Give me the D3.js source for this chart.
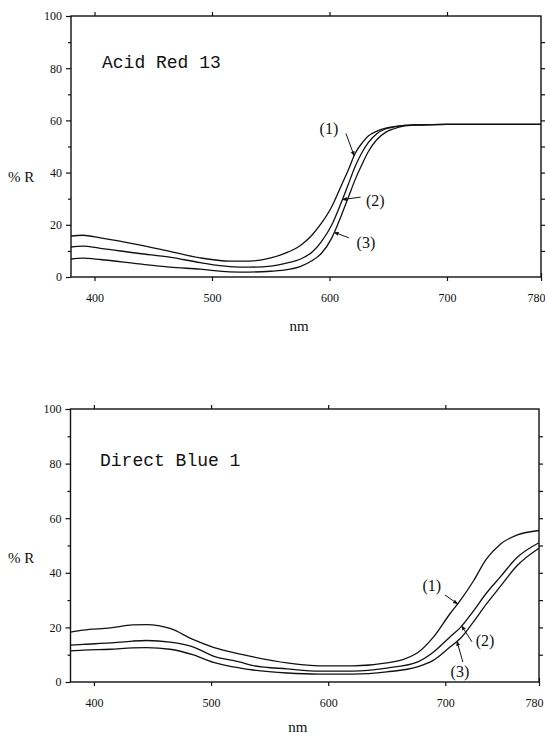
<!DOCTYPE html>
<html>
<head>
<meta charset="utf-8">
<script src="https://cdn.jsdelivr.net/npm/d3@7"></script>
<style>
  html, body { margin: 0; padding: 0; background: #fff; }
  svg { display: block; }
  .tick-label { font-family: "Liberation Serif", "DejaVu Serif", serif; font-size: 12px; fill: #111; }
  .axis-title { font-family: "Liberation Serif", "DejaVu Serif", serif; fill: #111; }
  .panel-title { font-family: "Liberation Mono", "DejaVu Sans Mono", monospace; font-size: 18px; fill: #111; }
  .curve-label { font-family: "Liberation Serif", "DejaVu Serif", serif; font-size: 16px; fill: #111; }
</style>
</head>
<body>
<svg id="chart" width="545" height="741"></svg>
<script>
// Reflectance spectra (%R vs wavelength, nm) of two dyes, three dyeings each.

// ---- Acid Red 13 ----
const acidRedWavelengths = [380, 390, 405, 438, 464, 490, 515, 532, 550, 565, 575, 585, 593, 602, 610, 616, 622, 628, 633, 640, 648, 655, 662, 675, 700, 740, 780];
const acidRed1 = [15.7, 16.0, 15.0, 12.3, 9.8, 7.3, 6.1, 6.1, 7.3, 9.6, 12.0, 16.0, 20.5, 27.0, 35.0, 41.0, 47.5, 51.5, 54.0, 55.8, 57.0, 57.6, 58.0, 58.3, 58.5, 58.5, 58.5];
const acidRed2 = [11.5, 11.8, 11.0, 9.0, 7.6, 5.5, 4.0, 3.8, 4.2, 5.5, 6.8, 9.5, 13.5, 20.0, 28.5, 35.5, 42.5, 48.0, 51.5, 54.8, 56.8, 57.5, 58.0, 58.3, 58.5, 58.5, 58.5];
const acidRed3 = [6.9, 7.2, 6.7, 5.0, 3.8, 3.0, 2.0, 1.9, 2.2, 2.9, 4.0, 6.2, 9.0, 15.0, 23.5, 30.5, 37.5, 43.5, 48.0, 52.5, 55.5, 56.8, 57.7, 58.2, 58.5, 58.5, 58.5];

// ---- Direct Blue 1 ----
const directBlueWavelengths = [380, 391, 414, 433, 445, 465, 485, 502, 525, 536, 565, 593, 621, 650, 676, 690, 704, 713, 724, 735, 747, 761, 780];
const directBlue1 = [18.3, 19.0, 19.8, 20.9, 21.0, 19.6, 15.5, 12.7, 10.2, 9.2, 7.0, 5.9, 5.9, 7.0, 10.6, 16.5, 25.0, 30.0, 37.0, 45.0, 50.5, 53.8, 55.5];
const directBlue2 = [13.5, 13.8, 14.3, 15.0, 15.2, 14.6, 12.8, 9.5, 7.3, 6.0, 4.8, 4.0, 4.0, 5.1, 7.3, 11.0, 16.5, 20.0, 26.0, 32.5, 38.5, 45.5, 51.0];
const directBlue3 = [11.4, 11.7, 12.0, 12.5, 12.6, 12.0, 9.9, 7.2, 5.1, 4.4, 3.3, 2.9, 2.9, 3.7, 5.5, 8.0, 12.8, 16.0, 22.0, 28.5, 35.0, 42.5, 49.0];

// Axis ticks
const xTickValues = [400, 500, 600, 700, 780];
const yTickValues = [0, 20, 40, 60, 80, 100];
const yMinorTickValues = [10, 30, 50, 70, 90];
const xDomain = [380, 780];
const yDomain = [0, 100];

// Curve labels: text, which series, wavelength the arrow points at,
// label centre and arrow start in data units (nm, %R).
const acidRedLabels = [
  { text: "(1)", series: 0, tipNm: 621, labelNm: 599.5, labelR: 57, fromNm: 614, fromR: 55 },
  { text: "(2)", series: 1, tipNm: 611, labelNm: 639, labelR: 29.5, fromNm: 626.5, fromR: 30.6 },
  { text: "(3)", series: 2, tipNm: 604, labelNm: 631, labelR: 13.4, fromNm: 616.5, fromR: 15 }
];
const directBlueLabels = [
  { text: "(1)", series: 0, tipNm: 710.5, labelNm: 688.5, labelR: 35.5, fromNm: 699.7, fromR: 31.9 },
  { text: "(2)", series: 1, tipNm: 714, labelNm: 734, labelR: 15.4, fromNm: 722.8, fromR: 14.7 },
  { text: "(3)", series: 2, tipNm: 710, labelNm: 712.5, labelR: 3.7, fromNm: 715, fromR: 7.3 }
];

const svg = d3.select("#chart");

svg.append("defs").append("marker")
  .attr("id", "arrowhead")
  .attr("viewBox", "0 0 10 10")
  .attr("refX", 9).attr("refY", 5)
  .attr("markerWidth", 5).attr("markerHeight", 5)
  .attr("orient", "auto")
  .append("path").attr("d", "M0,1 L10,5 L0,9 Z").attr("fill", "#111");

function interp(xs, ys, x) {
  for (let i = 1; i < xs.length; i++) {
    if (x <= xs[i]) {
      const t = (x - xs[i - 1]) / (xs[i] - xs[i - 1]);
      return ys[i - 1] + t * (ys[i] - ys[i - 1]);
    }
  }
  return ys[ys.length - 1];
}

function drawPanel(opts) {
  const { left, right, top, bottom, title, titleX, titleY, wavelengths, series, labels, ylabelY, nmY } = opts;
  const x = d3.scaleLinear().domain(xDomain).range([left, right]);
  const y = d3.scaleLinear().domain(yDomain).range([bottom, top]);
  const g = svg.append("g");
  const ink = "#111";

  // frame
  g.append("rect")
    .attr("x", left).attr("y", top)
    .attr("width", right - left).attr("height", bottom - top)
    .attr("fill", "none").attr("stroke", ink).attr("stroke-width", 1.4);

  // left axis: labels + outward ticks
  const yAxis = d3.axisLeft(y).tickValues(yTickValues).tickSize(5).tickPadding(4).tickFormat(d3.format("d"));
  const ya = g.append("g").attr("transform", `translate(${left},0)`).call(yAxis);
  ya.select(".domain").remove();
  ya.selectAll("line").attr("stroke", ink).attr("stroke-width", 1.2);
  ya.selectAll("text").attr("class", "tick-label").attr("font-size", null).attr("font-family", null);

  const yMinor = d3.axisLeft(y).tickValues(yMinorTickValues).tickSize(3).tickFormat("");
  const ym = g.append("g").attr("transform", `translate(${left},0)`).call(yMinor);
  ym.select(".domain").remove();
  ym.selectAll("line").attr("stroke", ink).attr("stroke-width", 1.2);

  // right axis ticks every 10
  const yRight = d3.axisRight(y).tickValues(d3.range(10, 100, 10)).tickSize(4).tickFormat("");
  const yr = g.append("g").attr("transform", `translate(${right},0)`).call(yRight);
  yr.select(".domain").remove();
  yr.selectAll("line").attr("stroke", ink).attr("stroke-width", 1.2);

  // bottom axis
  const xAxis = d3.axisBottom(x).tickValues(xTickValues).tickSize(4).tickPadding(12).tickFormat(d3.format("d"));
  const xa = g.append("g").attr("transform", `translate(0,${bottom})`).call(xAxis);
  xa.select(".domain").remove();
  xa.selectAll("line").attr("stroke", ink).attr("stroke-width", 1.2);
  xa.selectAll("text").attr("class", "tick-label").attr("font-size", null).attr("font-family", null);
  // the last label sits at the frame's corner; keep it inside the page
  xa.selectAll(".tick").filter((d) => d === xDomain[1]).select("text")
    .attr("text-anchor", "end").attr("x", 4);
  xa.selectAll(".tick").filter((d) => d === xDomain[1]).select("line")
    .attr("y1", -4);

  // top axis ticks
  const xTop = d3.axisTop(x).tickValues(xTickValues.slice(0, 4)).tickSize(4).tickFormat("");
  const xt = g.append("g").attr("transform", `translate(0,${top})`).call(xTop);
  xt.select(".domain").remove();
  xt.selectAll("line").attr("stroke", ink).attr("stroke-width", 1.2);

  // axis titles
  g.append("text").attr("class", "axis-title")
    .attr("x", 8).attr("y", ylabelY).attr("dy", "0.35em")
    .attr("font-size", 15).text("% R");
  g.append("text").attr("class", "axis-title")
    .attr("x", (left + right) / 2 - 7).attr("y", nmY).attr("dy", "0.35em")
    .attr("text-anchor", "middle").attr("font-size", 15).text("nm");

  // panel title
  g.append("text").attr("class", "panel-title")
    .attr("x", titleX).attr("y", titleY).attr("dy", "0.35em").text(title);

  // curves
  const line = d3.line()
    .x((d) => x(d[0]))
    .y((d) => y(d[1]))
    .curve(d3.curveMonotoneX);
  series.forEach((vals) => {
    g.append("path")
      .datum(wavelengths.map((w, i) => [w, vals[i]]))
      .attr("d", line)
      .attr("fill", "none")
      .attr("stroke", ink)
      .attr("stroke-width", 1.3);
  });

  // curve labels with arrows
  labels.forEach((lab) => {
    const tipR = interp(wavelengths, series[lab.series], lab.tipNm);
    g.append("line")
      .attr("x1", x(lab.fromNm)).attr("y1", y(lab.fromR))
      .attr("x2", x(lab.tipNm)).attr("y2", y(tipR))
      .attr("stroke", ink).attr("stroke-width", 1)
      .attr("marker-end", "url(#arrowhead)");
    g.append("text").attr("class", "curve-label")
      .attr("x", x(lab.labelNm)).attr("y", y(lab.labelR))
      .attr("dy", "0.35em").attr("text-anchor", "middle")
      .text(lab.text);
  });
}

drawPanel({
  left: 71, right: 541, top: 16, bottom: 277,
  title: "Acid Red 13", titleX: 102, titleY: 62,
  wavelengths: acidRedWavelengths,
  series: [acidRed1, acidRed2, acidRed3],
  labels: acidRedLabels,
  ylabelY: 177, nmY: 326
});

drawPanel({
  left: 70.5, right: 539, top: 409, bottom: 682,
  title: "Direct Blue 1", titleX: 100, titleY: 460,
  wavelengths: directBlueWavelengths,
  series: [directBlue1, directBlue2, directBlue3],
  labels: directBlueLabels,
  ylabelY: 558, nmY: 727
});
</script>
</body>
</html>
